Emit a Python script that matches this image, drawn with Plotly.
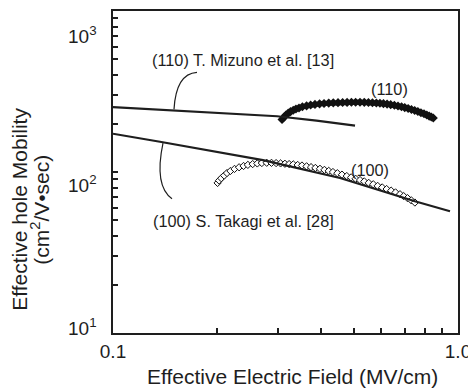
import plotly.graph_objects as go

# ---- data ----
mizuno_x = [0.1, 0.151, 0.299, 0.389, 0.503]
mizuno_y = [253, 241.5, 222, 208.5, 194]

takagi_x = [0.1, 0.1368, 0.2721, 0.455, 0.750, 0.948]
takagi_y = [172.9, 154.2, 118.6, 91.8, 65.8, 57.0]

m110_x = [0.309, 0.313, 0.317, 0.322, 0.327, 0.333, 0.339, 0.346, 0.354, 0.364,
          0.374, 0.385, 0.397, 0.409, 0.422, 0.435, 0.449, 0.463, 0.477, 0.491,
          0.505, 0.520, 0.535, 0.550, 0.565, 0.580, 0.594, 0.608, 0.623, 0.638,
          0.654, 0.670, 0.686, 0.701, 0.717, 0.733, 0.749, 0.765, 0.781, 0.797,
          0.812, 0.825, 0.837, 0.848]
m110_y = [212, 219, 226, 232, 237, 242, 246, 250, 254, 257.5,
          260.5, 263, 265, 266.5, 267.8, 268.8, 269.6, 270.2, 270.6, 270.9,
          271, 271, 270.7, 270.2, 269.4, 268.4, 267.2, 265.8, 264.0, 262.0,
          259.6, 257.0, 254.2, 251.2, 248.0, 244.6, 241.0, 237.4, 233.6, 229.8,
          226.0, 222.5, 219.5, 216.5]

m100_x = [0.201, 0.203, 0.206, 0.210, 0.214, 0.219, 0.225, 0.232, 0.239, 0.246,
          0.254, 0.262, 0.270, 0.279, 0.288, 0.297, 0.306, 0.315, 0.324, 0.333,
          0.343, 0.353, 0.364, 0.375, 0.386, 0.398, 0.410, 0.422, 0.434, 0.447,
          0.461, 0.476, 0.490, 0.505, 0.520, 0.535, 0.551, 0.568, 0.585, 0.603,
          0.621, 0.640, 0.659, 0.679, 0.696, 0.714, 0.732, 0.750]
m100_y = [85.5, 88.5, 91.5, 95.0, 98.5, 101.5, 104.5, 107.0, 109.0, 110.7,
          112.0, 113.0, 113.7, 114.1, 114.0, 113.6, 113.1, 112.5, 112.0, 111.5,
          110.6, 109.7, 108.5, 107.2, 106.0, 104.7, 103.1, 101.6, 100.0, 98.3,
          96.3, 94.4, 92.6, 90.8, 89.1, 87.4, 85.6, 83.9, 82.0, 80.2,
          78.4, 76.6, 74.7, 72.8, 70.8, 68.8, 66.7, 64.6]

x_tickvals = [0.1, 0.2, 0.3, 0.4, 0.5, 0.6, 0.7, 0.8, 0.9, 1.0]
x_ticktext = ["0.1", "", "", "", "", "", "", "", "", "1.0"]
y_tickvals = [10, 20, 30, 40, 50, 60, 70, 80, 90, 100,
              200, 300, 400, 500, 600, 700, 800, 900, 1000]
y_labels = ["10<sup>3</sup>", "10<sup>2</sup>", "10<sup>1</sup>"]

FONT = "Liberation Sans, Arial, Helvetica, sans-serif"
INK = "#1e1e1e"

fig = go.Figure()

# (110) measured band: a thick stroke under densely packed filled diamonds
fig.add_trace(go.Scatter(x=m110_x, y=m110_y, mode="lines+markers",
                         line=dict(color="#111111", width=5),
                         marker=dict(symbol="diamond", size=7, color="#111111",
                                     line=dict(width=0))))
fig.add_trace(go.Scatter(x=m100_x, y=m100_y, mode="markers",
                         marker=dict(symbol="diamond", size=5.6, color="white",
                                     line=dict(width=1, color="#111111"))))
fig.add_trace(go.Scatter(x=mizuno_x, y=mizuno_y, mode="lines",
                         line=dict(color=INK, width=2.2)))
fig.add_trace(go.Scatter(x=takagi_x, y=takagi_y, mode="lines",
                         line=dict(color=INK, width=2.2)))

annos = [
    dict(text="(110) T. Mizuno et al. [13]", x=0.378, y=0.847, size=16.3),
    dict(text="(100) S. Takagi et al. [28]", x=0.378, y=0.349, size=16.3),
    dict(text="(110)", x=0.80, y=0.758, size=16.3),
    dict(text="(100)", x=0.745, y=0.505, size=16.3),
]
for a in annos:
    fig.add_annotation(text=a["text"], x=a["x"], y=a["y"], xref="paper", yref="paper",
                       xanchor="center", yanchor="middle", showarrow=False,
                       font=dict(family=FONT, size=a["size"], color=INK))

# y tick labels placed where the reference shows them
for txt, yy in zip(y_labels, [0.925, 0.463, 0.018]):
    fig.add_annotation(text=txt, x=-0.040, y=yy, xref="paper", yref="paper",
                       xanchor="right", yanchor="middle", showarrow=False,
                       font=dict(family=FONT, size=19, color=INK))

# axis titles
fig.add_annotation(text="Effective Electric Field (MV/cm)", x=0.5203, y=-0.1358,
                   xref="paper", yref="paper", xanchor="center", yanchor="middle",
                   showarrow=False, font=dict(family=FONT, size=21, color=INK))
fig.add_annotation(text="Effective hole Mobility", x=-0.2696, y=0.3858,
                   xref="paper", yref="paper", xanchor="center", yanchor="middle",
                   textangle=-90, showarrow=False,
                   font=dict(family=FONT, size=21, color=INK))
fig.add_annotation(text="(cm<sup>2</sup>/V•sec)", x=-0.2116, y=0.3827,
                   xref="paper", yref="paper", xanchor="center", yanchor="middle",
                   textangle=-90, showarrow=False,
                   font=dict(family=FONT, size=21, color=INK))

# leader curves
fig.add_shape(type="path", xref="paper", yref="paper",
              path="M 0.1768,0.6944 Q 0.1826,0.8056 0.2435,0.8096",
              line=dict(color=INK, width=1.2))
fig.add_shape(type="path", xref="paper", yref="paper",
              path="M 0.1449,0.5895 Q 0.1188,0.4568 0.171,0.4167",
              line=dict(color=INK, width=1.2))

# the page body adds an 8px margin, so the figure is sized to fit the window
fig.update_layout(
    width=468, height=381,
    margin=dict(l=105, r=18, t=1, b=56),
    plot_bgcolor="white", paper_bgcolor="white",
    showlegend=False,
    xaxis=dict(type="log", range=[-1, 0], tickvals=x_tickvals, ticktext=x_ticktext,
               tickangle=0,
               ticks="inside", ticklen=5, tickwidth=1.5, tickcolor=INK,
               showline=True, linewidth=2, linecolor=INK, mirror=True,
               showgrid=False, zeroline=False,
               tickfont=dict(family=FONT, size=19, color=INK)),
    yaxis=dict(type="log", range=[1, 3], tickvals=y_tickvals, showticklabels=False,
               ticks="inside", ticklen=5, tickwidth=1.5, tickcolor=INK,
               showline=True, linewidth=2, linecolor=INK, mirror=True,
               showgrid=False, zeroline=False),
)

fig.write_html("out.html")
